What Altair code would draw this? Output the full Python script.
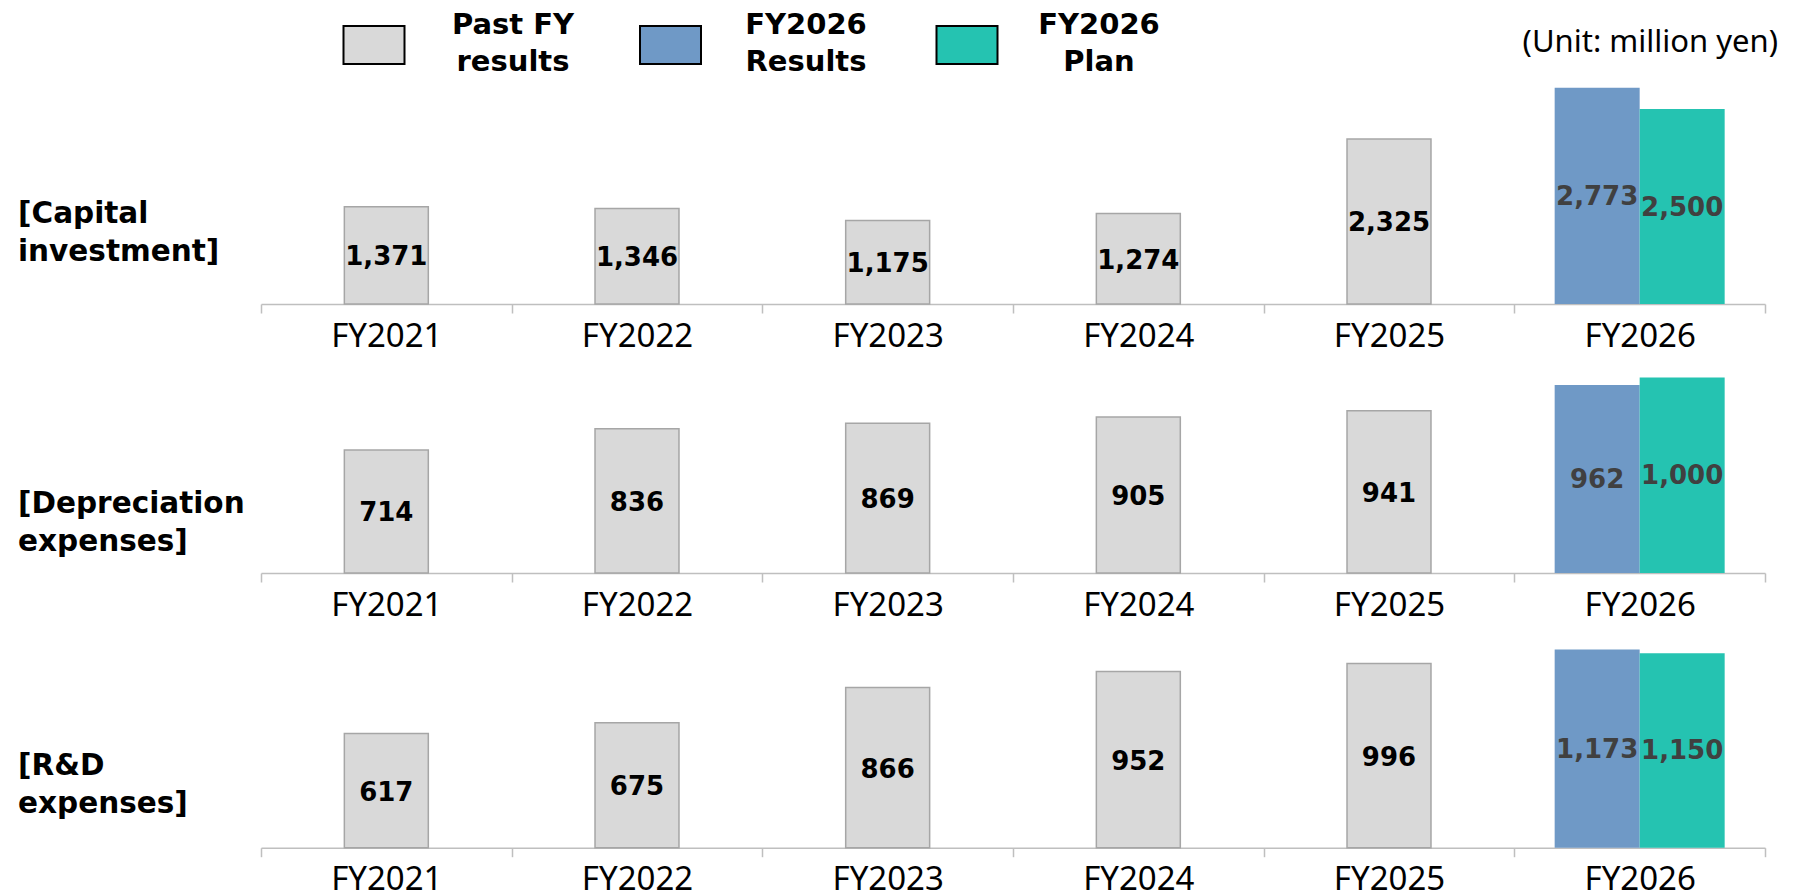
import altair as alt
import pandas as pd

# ---- data ----
years = ["FY2021", "FY2022", "FY2023", "FY2024", "FY2025", "FY2026"]
past_years = ["FY2021", "FY2022", "FY2023", "FY2024", "FY2025"]
series_names = ["Past FY results", "FY2026 Results", "FY2026 Plan"]
legend_labels = ["Past FY\nresults", "FY2026\nResults", "FY2026\nPlan"]
series_colors = ["#d9d9d9", "#6f99c6", "#25c3b1"]
fy26_series = ["FY2026 Results", "FY2026 Plan"]

capex_past = [1371, 1346, 1175, 1274, 2325]
capex_fy26 = [2773, 2500]
dep_past = [714, 836, 869, 905, 941]
dep_fy26 = [962, 1000]
rd_past = [617, 675, 866, 952, 996]
rd_fy26 = [1173, 1150]

row_labels = ["[Capital\ninvestment]", "[Depreciation\nexpenses]", "[R&D\nexpenses]"]
unit_label = "(Unit: million yen)"

PLOT_W = 1504

x_axis = alt.Axis(
    title=None, labelAngle=0, labelFont="Noto Sans", labelFontSize=33,
    labelColor="black", labelPadding=7, tickSize=9, tickColor="#bfbfbf",
    tickWidth=1.5, domainColor="#bfbfbf", domainWidth=1.5, tickBand="extent",
    grid=False,
)
x_scale = alt.Scale(domain=years, paddingInner=0, paddingOuter=0)
color = alt.Color("series:N", scale=alt.Scale(domain=series_names, range=series_colors),
                  legend=None)


def panel(past_vals, fy_vals, label, height, past_max, fy_max, label_y, first=False):
    past_df = pd.DataFrame({"year": past_years, "value": past_vals,
                            "series": ["Past FY results"] * len(past_years)})
    fy_df = pd.DataFrame({"year": ["FY2026"] * len(fy_vals), "value": fy_vals,
                          "series": fy26_series})
    x_main = alt.X("year:N", scale=x_scale, axis=x_axis)
    x_plain = alt.X("year:N", scale=x_scale, axis=None)
    yp = alt.Scale(domain=[0, past_max])
    yf = alt.Scale(domain=[0, fy_max])
    xoff = alt.XOffset("series:N", scale=alt.Scale(domain=fy26_series, paddingOuter=0.4745,
                                                   paddingInner=0))

    past_bar = alt.Chart(past_df).mark_bar(
        stroke="#a6a6a6", strokeWidth=1.5, width=alt.RelativeBandSize(0.335)
    ).encode(x=x_main, y=alt.Y("value:Q", scale=yp, axis=None), color=color)
    past_text = alt.Chart(past_df).transform_calculate(mid="datum.value / 2").mark_text(
        font="DejaVu Sans", fontWeight="bold", fontSize=26, color="black",
        baseline="middle", dy=2
    ).encode(x=x_plain, y=alt.Y("mid:Q", scale=yp, axis=None),
             text=alt.Text("value:Q", format=","))
    fy_bar = alt.Chart(fy_df).mark_bar().encode(
        x=x_plain, xOffset=xoff, y=alt.Y("value:Q", scale=yf, axis=None), color=color)
    fy_text = alt.Chart(fy_df).transform_calculate(mid="datum.value / 2").mark_text(
        font="DejaVu Sans", fontWeight="bold", fontSize=26, color="#404040",
        baseline="middle", dy=1
    ).encode(x=x_plain, xOffset=xoff, y=alt.Y("mid:Q", scale=yf, axis=None),
             text=alt.Text("value:Q", format=","))
    row = alt.Chart(pd.DataFrame({"label": [label]})).mark_text(
        font="DejaVu Sans", fontWeight="bold", fontSize=29.5, lineHeight=38,
        align="left", baseline="middle", lineBreak="\n", color="black"
    ).encode(x=alt.value(-243), y=alt.value(label_y), text="label:N")
    layers = [past_bar, past_text, fy_bar, fy_text, row]
    if first:
        unit = alt.Chart(pd.DataFrame({"label": [unit_label]})).mark_text(
            font="Noto Sans", fontSize=31, align="right", baseline="middle", color="black"
        ).encode(x=alt.value(1517), y=alt.value(-37), text="label:N")
        leg_df = pd.DataFrame({"series": series_names, "label": legend_labels})
        leg_sym = alt.Chart(leg_df).mark_point(
            shape="M-1,-0.62H1V0.62H-1Z", size=3721, filled=True, opacity=1,
            stroke="black", strokeWidth=2
        ).encode(
            x=alt.X("series:N", scale=alt.Scale(type="point", domain=series_names,
                                                range=[113, 706], padding=0), axis=None),
            y=alt.value(-35), color=color)
        leg_txt = alt.Chart(leg_df).mark_text(
            font="DejaVu Sans", fontWeight="bold", fontSize=29, lineHeight=37,
            align="center", baseline="middle", lineBreak="\n", color="black"
        ).encode(
            x=alt.X("series:N", scale=alt.Scale(type="point", domain=series_names,
                                                range=[252, 838], padding=0), axis=None),
            y=alt.value(-55), text="label:N")
        layers += [unit, leg_sym, leg_txt]
    return alt.layer(*layers).resolve_scale(x="independent", y="independent").properties(
        width=PLOT_W, height=height)


p1 = panel(capex_past, capex_fy26, row_labels[0], 224, 3155, 2872, 134.4, first=True)
p2 = panel(dep_past, dep_fy26, row_labels[1], 210, 1218, 1074, 140.5)
p3 = panel(rd_past, rd_fy26, row_labels[2], 215.7, 1166, 1276, 133.7)

chart = alt.vconcat(p1, p2, p3, spacing=10).properties(
    padding={"left": 10, "top": 3, "right": 5, "bottom": 0}
).configure_view(strokeWidth=0)

chart.save("out.html", embed_options={"renderer": "svg", "actions": False})
